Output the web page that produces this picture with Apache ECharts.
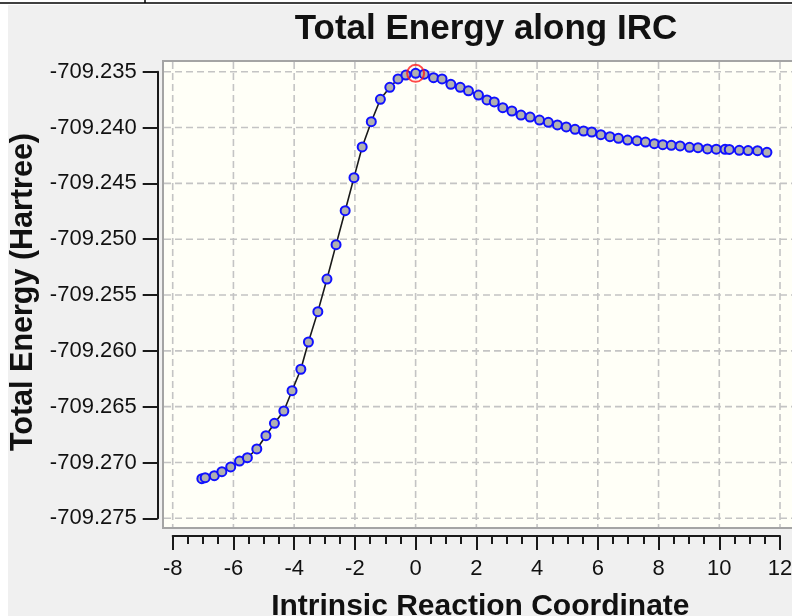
<!DOCTYPE html>
<html>
<head>
<meta charset="utf-8">
<script src="https://cdn.jsdelivr.net/npm/echarts@6/dist/echarts.min.js"></script>
<style>
  html, body { margin: 0; padding: 0; background: #ffffff; }
  #chart { width: 792px; height: 616px; }
</style>
</head>
<body>
<div id="chart"></div>
<script>
// IRC path: reaction coordinate and total energy (Hartree) for each step
const ircCoord = [
  -7.04, -6.93, -6.63, -6.38, -6.09, -5.80, -5.54, -5.23, -4.93, -4.65,
  -4.34, -4.07, -3.78, -3.53, -3.22, -2.92, -2.62, -2.32, -2.03, -1.76,
  -1.46, -1.16, -0.85, -0.58, -0.32,
  0.00,
  0.28, 0.59, 0.87, 1.16, 1.47, 1.74, 2.07, 2.35, 2.59, 2.87,
  3.17, 3.47, 3.77, 4.08, 4.37, 4.67, 4.96, 5.25, 5.53, 5.80,
  6.10, 6.40, 6.68, 6.98, 7.29, 7.57, 7.86, 8.14, 8.42, 8.71,
  9.02, 9.30, 9.61, 9.90, 10.19, 10.33, 10.66, 10.95, 11.26, 11.57
];
const totalEnergy = [
  -709.27145, -709.27136, -709.27118, -709.27082, -709.27040, -709.26987, -709.26957, -709.26879, -709.26760, -709.26649,
  -709.26539, -709.26357, -709.26165, -709.25921, -709.25649, -709.25357, -709.25049, -709.24745, -709.24449, -709.24174,
  -709.23948, -709.23747, -709.23640, -709.23565, -709.23530,
  -709.23515,
  -709.23522, -709.23554, -709.23565, -709.23613, -709.23640, -709.23671, -709.23709, -709.23753, -709.23771, -709.23822,
  -709.23852, -709.23888, -709.23906, -709.23933, -709.23953, -709.23977, -709.23995, -709.24016, -709.24031, -709.24040,
  -709.24064, -709.24082, -709.24096, -709.24112, -709.24118, -709.24130, -709.24145, -709.24154, -709.24159, -709.24165,
  -709.24177, -709.24181, -709.24192, -709.24194, -709.24195, -709.24196, -709.24204, -709.24206, -709.24207, -709.24222
];
// transition state (highlighted point)
const tsCoord = [0.00];
const tsEnergy = [-709.23515];

// axis ticks
const xTicks = [-8, -6, -4, -2, 0, 2, 4, 6, 8, 10, 12];
const yTicks = [-709.275, -709.270, -709.265, -709.260, -709.255, -709.250, -709.245, -709.240, -709.235];
const xStep = 2;
const yStep = 0.005;

// plot frame (the cream panel behind the curve)
const FRAME = { left: 163, top: 61, right: 800, bottom: 528 };
const FONT = 'Liberation Sans';

const chart = echarts.init(document.getElementById('chart'), null, { renderer: 'canvas' });

const pathData = ircCoord.map((x, i) => [x, totalEnergy[i]]);
const tsData = tsCoord.map((x, i) => [x, tsEnergy[i]]);
const xMin = xTicks[0], xMax = xTicks[xTicks.length - 1];
const yMin = yTicks[0], yMax = yTicks[yTicks.length - 1];

const gridStyle = { stroke: '#c4c4c4', lineWidth: 1.6, lineDash: [7, 4] };

chart.setOption({
  backgroundColor: '#ffffff',
  animation: false,
  graphic: [
    { type: 'rect', z: -10, silent: true, shape: { x: 8, y: 5, width: 800, height: 620 }, style: { fill: '#f0f0f0' } },
    { type: 'line', z: -9, silent: true, shape: { x1: 0, y1: 3, x2: 792, y2: 3 }, style: { stroke: '#000', lineWidth: 1.5 } },
    { type: 'line', z: -9, silent: true, shape: { x1: 145, y1: 0, x2: 145, y2: 3 }, style: { stroke: '#000', lineWidth: 1.5 } },
    {
      type: 'rect', z: -5, silent: true,
      shape: { x: FRAME.left, y: FRAME.top, width: FRAME.right - FRAME.left, height: FRAME.bottom - FRAME.top },
      style: { fill: '#fffff7', stroke: '#a4a4a4', lineWidth: 2 }
    }
  ],
  title: {
    text: 'Total Energy along IRC',
    left: 481,
    textAlign: 'center',
    top: 7,
    textStyle: { fontFamily: FONT, fontSize: 35, fontWeight: 'bold', color: '#111' }
  },
  grid: {
    left: 172.7, right: 12, top: 71.7, bottom: 97.7,
    containLabel: false,
    outerBoundsMode: 'none'
  },
  xAxis: {
    type: 'value',
    min: xMin,
    max: xMax,
    interval: xStep,
    offset: 17.7,
    name: 'Intrinsic Reaction Coordinate',
    nameLocation: 'middle',
    nameGap: 56,
    nameTextStyle: { fontFamily: FONT, fontSize: 30, fontWeight: 'bold', color: '#111', padding: [0, 0, 0, 8] },
    axisLine: { show: true, onZero: false, lineStyle: { color: '#1a1a1a', width: 2 } },
    axisTick: { show: true, inside: false, length: 14, lineStyle: { color: '#1a1a1a', width: 2 } },
    minorTick: { show: true, splitNumber: 4, length: 8, lineStyle: { color: '#1a1a1a', width: 2 } },
    axisLabel: { margin: 22, fontFamily: FONT, fontSize: 22, color: '#111' },
    splitLine: { show: false }
  },
  yAxis: {
    type: 'value',
    min: yMin,
    max: yMax,
    interval: yStep,
    offset: 15,
    name: 'Total Energy (Hartree)',
    nameLocation: 'middle',
    nameGap: 117,
    nameRotate: 90,
    nameTextStyle: { fontFamily: FONT, fontSize: 30.5, fontWeight: 'bold', color: '#111', padding: [0, 0, 0, 6] },
    axisLine: { show: true, onZero: false, lineStyle: { color: '#1a1a1a', width: 2 } },
    axisTick: { show: true, inside: false, length: 15, lineStyle: { color: '#1a1a1a', width: 2 } },
    axisLabel: {
      margin: 21, fontFamily: FONT, fontSize: 22, color: '#111',
      formatter: v => v.toFixed(3)
    },
    splitLine: { show: false }
  },
  series: [
    {
      // vertical dashed grid lines, run across the full frame
      type: 'custom',
      silent: true,
      z: 1,
      clip: false,
      data: xTicks.map(v => [v, yMin]),
      renderItem: (params, api) => {
        const p = api.coord([api.value(0), api.value(1)]);
        return { type: 'line', shape: { x1: p[0], y1: FRAME.top + 1, x2: p[0], y2: FRAME.bottom - 1 }, style: gridStyle };
      }
    },
    {
      // horizontal dashed grid lines
      type: 'custom',
      silent: true,
      z: 1,
      clip: false,
      data: yTicks.map(v => [xMin, v]),
      renderItem: (params, api) => {
        const p = api.coord([api.value(0), api.value(1)]);
        return { type: 'line', shape: { x1: FRAME.left + 1, y1: p[1], x2: FRAME.right, y2: p[1] }, style: gridStyle };
      }
    },
    {
      name: 'Total Energy',
      type: 'line',
      data: pathData,
      z: 3,
      showSymbol: true,
      symbol: 'circle',
      symbolSize: 9,
      lineStyle: { color: '#1a1a1a', width: 1.6 },
      itemStyle: { color: '#b0b0b0', borderColor: '#1010ff', borderWidth: 2 },
      emphasis: { disabled: true }
    },
    {
      name: 'TS',
      type: 'scatter',
      data: tsData,
      z: 4,
      symbol: 'circle',
      symbolSize: 17,
      itemStyle: { color: 'rgba(0,0,0,0)', borderColor: '#ff1a1a', borderWidth: 2 },
      emphasis: { disabled: true }
    }
  ]
});
</script>
</body>
</html>
